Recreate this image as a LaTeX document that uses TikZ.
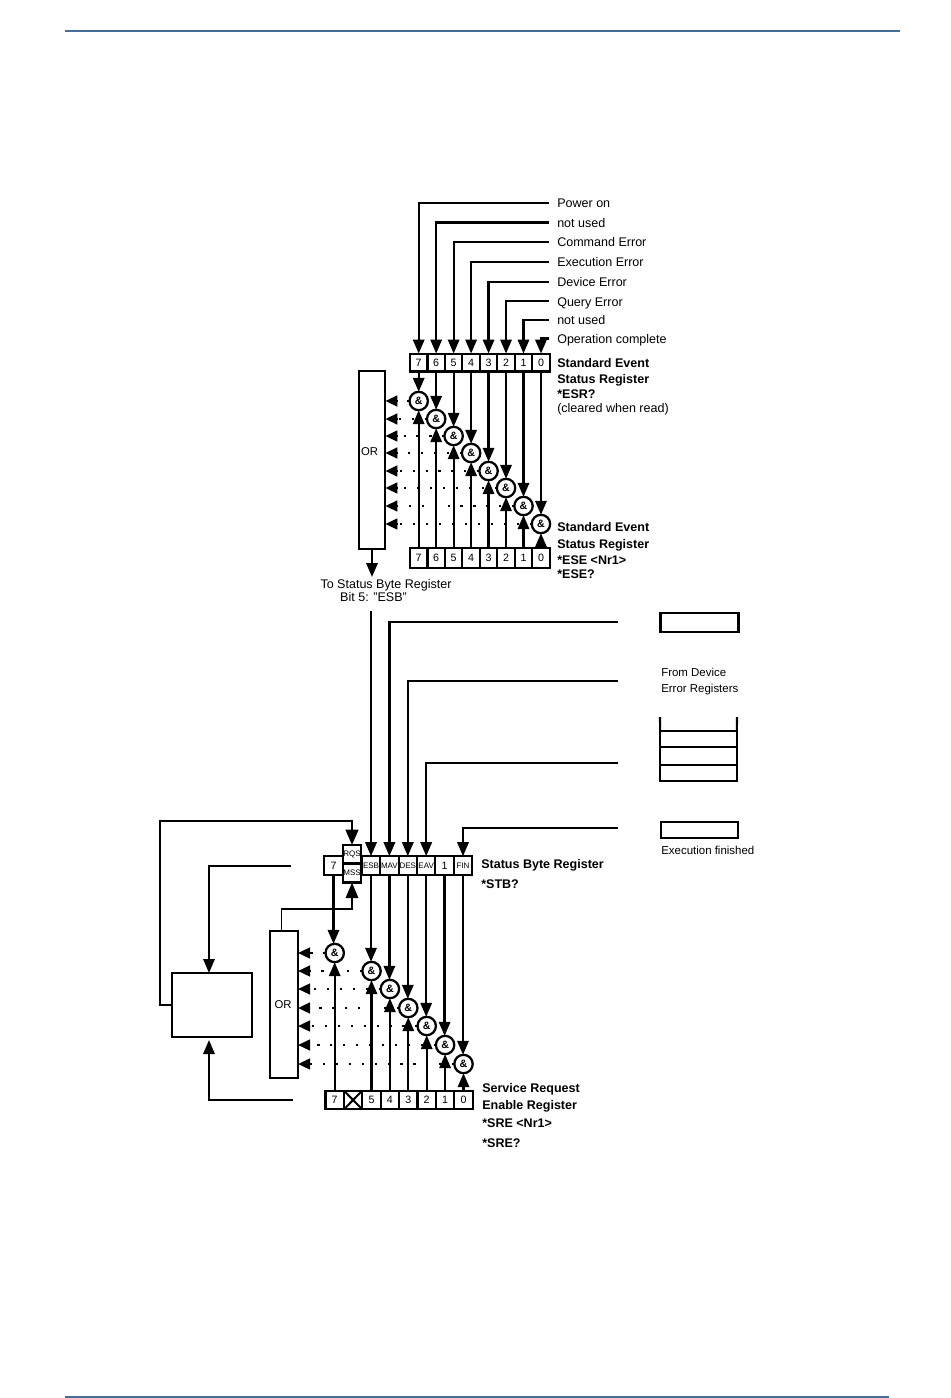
\documentclass[tikz,border=0pt]{standalone}
\usepackage{fontspec}
\setmainfont{Liberation Sans}
\usepackage{tikz}
\usetikzlibrary{positioning,arrows.meta}
\definecolor{rulecol}{RGB}{70,110,150}
\tikzset{reg cell/.style={rectangle,draw,line width=1.6pt,minimum width=13.1pt,minimum height=13.4pt,inner sep=0pt,outer sep=0pt,font=\fontsize{8}{9}\selectfont},
low cell/.style={reg cell,minimum height=14.5pt},
num cell/.style={reg cell,minimum width=13.8pt,minimum height=14pt},
stat cell/.style={num cell,font=\fontsize{6}{7}\selectfont},
and node/.style={circle,draw,line width=1.7pt,minimum size=13.8pt,inner sep=0pt,outer sep=0pt,font=\fontsize{8}{9}\selectfont\bfseries},
or box/.style={rectangle,draw,line width=1.6pt,inner sep=0pt,outer sep=0pt},
or label/.style={inner sep=0pt,font=\fontsize{8.5}{10}\selectfont},
sig label/.style={anchor=base west,yshift=-3.4pt,inner sep=0pt,font=\fontsize{9.4}{10}\selectfont},
reg label/.style={sig label,font=\fontsize{9.4}{10}\selectfont\bfseries},
dev label/.style={sig label,font=\fontsize{8.6}{9}\selectfont},
sig/.style={line width=1.7pt,-{Triangle[length=10.5pt,width=8.5pt]}},
big sig/.style={line width=1.7pt,-{Triangle[length=11.5pt,width=9.5pt]}},
stub/.style={line width=1.7pt,-{Triangle[length=9pt,width=8pt]}},
dots/.style={line width=1.5pt,dash pattern=on 1.6pt off 8.1pt},
}

\begin{document}
\begin{tikzpicture}[x=0.75pt,y=-0.75pt]
			\useasboundingbox (0,0) rectangle (950,1398);
			\coordinate (tl) at (65,31);
			\coordinate (tr) at (900,31);
			\coordinate (bl) at (65,1397);
			\coordinate (br) at (889,1397);
			\draw[rulecol,line width=0.8pt] (tl) -- (tr);
			\draw[rulecol,line width=0.8pt] (bl) -- (br);
			
			%% event status register
			\node[reg cell] (r7) at (418.7,362.5) {7};
			\node[reg cell] (r6) [right = 0pt of r7] {6};
			\node[reg cell] (r5) [right = 0pt of r6] {5};
			\node[reg cell] (r4) [right = 0pt of r5] {4};
			\node[reg cell] (r3) [right = 0pt of r4] {3};
			\node[reg cell] (r2) [right = 0pt of r3] {2};
			\node[reg cell] (r1) [right = 0pt of r2] {1};
			\node[reg cell] (r0) [right = 0pt of r1] {0};
			
			%% event enable register
			\node[low cell] (e7) at (418.7,558) {7};
			\node[low cell] (e6) [right = 0pt of e7] {6};
			\node[low cell] (e5) [right = 0pt of e6] {5};
			\node[low cell] (e4) [right = 0pt of e5] {4};
			\node[low cell] (e3) [right = 0pt of e4] {3};
			\node[low cell] (e2) [right = 0pt of e3] {2};
			\node[low cell] (e1) [right = 0pt of e2] {1};
			\node[low cell] (e0) [right = 0pt of e1] {0};
			
			\node[and node] (a7) at (r7 |- 0,401) {\&};
			\node[and node] (a6) at (r6 |- 0,419) {\&};
			\node[and node] (a5) at (r5 |- 0,436) {\&};
			\node[and node] (a4) at (r4 |- 0,453) {\&};
			\node[and node] (a3) at (r3 |- 0,471) {\&};
			\node[and node] (a2) at (r2 |- 0,488) {\&};
			\node[and node] (a1) at (r1 |- 0,506) {\&};
			\node[and node] (a0) at (r0 |- 0,524) {\&};
			
			\node[or box,minimum width=20pt,minimum height=133pt] (or1) at (372,460) {};
			\node[or label] (ot1) at (369.5,452) {OR};
			
			%% texts on the right
			\node[sig label] (s7) at (557,203) {Power on};
			\node[sig label] (s6) at (557,222.5) {not used};
			\node[sig label] (s5) at (557,242) {Command Error};
			\node[sig label] (s4) at (557,262) {Execution Error};
			\node[sig label] (s3) at (557,282) {Device Error};
			\node[sig label] (s2) at (557,301.5) {Query Error};
			\node[sig label] (s1) at (557,320) {not used};
			\node[sig label] (s0) at (557,338.5) {Operation complete};
			\node[reg label] (l1) at (557,362.5) {Standard Event};
			\node[reg label] (l2) at (557,379) {Status Register};
			\node[reg label] (l3) at (557,394) {*ESR?};
			\node[sig label] (l4) at (557,408) {(cleared when read)};
			\node[reg label] (l5) at (557,527) {Standard Event};
			\node[reg label] (l6) at (557,544) {Status Register};
			\node[reg label] (l7) at (557,560) {*ESE <Nr1>};
			\node[reg label] (l8) at (557,574) {*ESE?};
			\node[sig label,anchor=base] (to1) at (386,584) {To Status Byte Register};
			\node[sig label,anchor=base] (to2) at (373.5,597) {Bit 5: "ESB"};
			
			\coordinate (t7) at (549,203);
			\coordinate (t6) at (549,222.5);
			\coordinate (t5) at (549,242);
			\coordinate (t4) at (549,262);
			\coordinate (t3) at (549,282);
			\coordinate (t2) at (549,301);
			\coordinate (t1) at (549,320);
			\coordinate (t0) at (549,338.5);
			\draw[sig] (t7) -| (r7.north);
			\draw[sig] (t6) -| (r6.north);
			\draw[sig] (t5) -| (r5.north);
			\draw[sig] (t4) -| (r4.north);
			\draw[sig] (t3) -| (r3.north);
			\draw[sig] (t2) -| (r2.north);
			\draw[sig] (t1) -| (r1.north);
			\draw[sig] (t0) -| (r0.north);
			
			\path[sig]
			(r7.south) edge (a7.north)
			(r6.south) edge (a6.north)
			(r5.south) edge (a5.north)
			(r4.south) edge (a4.north)
			(r3.south) edge (a3.north)
			(r2.south) edge (a2.north)
			(r1.south) edge (a1.north)
			(r0.south) edge (a0.north)
			(e7.north) edge (a7.south)
			(e6.north) edge (a6.south)
			(e5.north) edge (a5.south)
			(e4.north) edge (a4.south)
			(e3.north) edge (a3.south)
			(e2.north) edge (a2.south)
			(e1.north) edge (a1.south)
			(e0.north) edge (a0.south)
			;
			
			\path[dots]
			(a7.west) edge ++(-23,0)
			(a6.west) edge ++(-40,0)
			(a5.west) edge ++(-58,0)
			(a4.west) edge ++(-75,0)
			(a3.west) edge ++(-93,0)
			(a2.west) edge ++(-110,0)
			(a1.west) edge ++(-128,0)
			(a0.west) edge ++(-146,0)
			;
			\path[stub]
			(398,401) edge (or1.east |- a7)
			(398,419) edge (or1.east |- a6)
			(398,436) edge (or1.east |- a5)
			(398,453) edge (or1.east |- a4)
			(398,471) edge (or1.east |- a3)
			(398,488) edge (or1.east |- a2)
			(398,506) edge (or1.east |- a1)
			(398,524) edge (or1.east |- a0)
			;
			\coordinate (or1out) at (or1.south |- 0,577);
			\draw[sig] (or1.south) -- (or1out);
			
			%% status byte register
			\node[num cell] (b7) at (333.5,865.5) {7};
			\node[stat cell,minimum height=13.5pt,line width=1.9pt] (rqs) at (352,854) {RQS};
			\node[stat cell,minimum height=14.5pt,line width=1.9pt] (mss) at (352,873) {MSS};
			\node[stat cell] (esb) at (371,865.5) {ESB};
			\node[stat cell] (mav) [right = 0pt of esb] {MAV};
			\node[stat cell] (des) [right = 0pt of mav] {DES};
			\node[stat cell] (eav) [right = 0pt of des] {EAV};
			\node[num cell] (b1) [right = 0pt of eav] {1};
			\node[stat cell] (fin) [right = 0pt of b1] {FIN};
			
			%% service request enable register
			\node[num cell] (q7) at (334.7,1100) {7};
			\node[num cell] (q6) [right = 0pt of q7] {};
			\node[num cell] (q5) [right = 0pt of q6] {5};
			\node[num cell] (q4) [right = 0pt of q5] {4};
			\node[num cell] (q3) [right = 0pt of q4] {3};
			\node[num cell] (q2) [right = 0pt of q3] {2};
			\node[num cell] (q1) [right = 0pt of q2] {1};
			\node[num cell] (q0) [right = 0pt of q1] {0};
			\draw[line width=1.5pt] (q6.south west) -- (q6.north east);
			\draw[line width=1.5pt] (q6.north west) -- (q6.south east);
			
			\node[and node] (c7) at (q7 |- 0,953) {\&};
			\node[and node] (c5) at (q5 |- 0,971) {\&};
			\node[and node] (c4) at (q4 |- 0,989) {\&};
			\node[and node] (c3) at (q3 |- 0,1008) {\&};
			\node[and node] (c2) at (q2 |- 0,1026) {\&};
			\node[and node] (c1) at (q1 |- 0,1045) {\&};
			\node[and node] (c0) at (q0 |- 0,1064) {\&};
			
			\node[or box,minimum width=21pt,minimum height=110pt] (or2) at (284,1004.5) {};
			\node[or label] (ot2) at (283,1005) {OR};
			\node[or box,minimum width=60pt,minimum height=48pt] (srq) at (212,1005) {};
			
			\node[reg label] (l9) at (481,864) {Status Byte Register};
			\node[reg label] (l10) at (481,884) {*STB?};
			\node[reg label] (l11) at (482,1088) {Service Request};
			\node[reg label] (l12) at (482,1105) {Enable Register};
			\node[reg label] (l13) at (482,1123) {*SRE <Nr1>};
			\node[reg label] (l14) at (482,1143) {*SRE?};
			
			%% device error registers
			\node[or box,minimum width=58.5pt,minimum height=14pt] (d1) at (699.5,622.5) {};
			\node[dev label] (d2) at (661,672) {From Device};
			\node[dev label] (d3) at (661,688) {Error Registers};
			\node[or box,minimum width=57.5pt,minimum height=12pt] (d4) at (698.5,739) {};
			\node[or box,minimum width=57.5pt,minimum height=13.5pt] (d5) at (698.5,756) {};
			\node[or box,minimum width=57.5pt,minimum height=12pt] (d6) at (698.5,773) {};
			\coordinate (d7) at (660,717);
			\coordinate (d8) at (737,717);
			\draw[line width=1.6pt] (d7) -- (d4.north west);
			\draw[line width=1.6pt] (d8) -- (d4.north east);
			\node[or box,minimum width=57.5pt,minimum height=12pt] (d9) at (699.5,830) {};
			\node[dev label] (d10) at (661,850) {Execution finished};
			
			\coordinate (p1) at (371,611);
			\coordinate (p2) at (618,622);
			\coordinate (p3) at (618,681);
			\coordinate (p4) at (618,763);
			\coordinate (p5) at (618,828);
			\coordinate (p6) at (291,866);
			\coordinate (p7) at (293,1100);
			\coordinate (p8) at (160,821);
			\coordinate (p9) at (281.7,909);
			\coordinate (srqtop) at (209,973);
			\coordinate (srqbot) at (209,1040);
			
			\draw[sig] (p1) -- (esb.north);
			\draw[sig] (p2) -| (mav.north);
			\draw[sig] (p3) -| (des.north);
			\draw[sig] (p4) -| (eav.north);
			\draw[sig] (p5) -| (fin.north);
			\draw[sig] (p6) -| (srqtop);
			\draw[sig] (p7) -| (srqbot);
			\draw[big sig] (srq.west) -| (p8) -| (rqs.north);
			\draw[-{Triangle[length=11.5pt,width=9.5pt]},line width=0.8pt] (or2.north -| p9) |- (p9) -| (mss.south);
			
			\path[sig]
			(b7.south) edge (b7.south |- c7.north)
			(esb.south) edge (esb.south |- c5.north)
			(mav.south) edge (mav.south |- c4.north)
			(des.south) edge (des.south |- c3.north)
			(eav.south) edge (eav.south |- c2.north)
			(b1.south) edge (b1.south |- c1.north)
			(fin.south) edge (fin.south |- c0.north)
			(q7.north) edge (c7.south)
			(q5.north) edge (c5.south)
			(q4.north) edge (c4.south)
			(q3.north) edge (c3.south)
			(q2.north) edge (c2.south)
			(q1.north) edge (c1.south)
			(q0.north) edge (c0.south)
			;
			\path[dots]
			(c7.west) edge ++(-23,0)
			(c5.west) edge ++(-58,0)
			(c4.west) edge ++(-77,0)
			(c3.west) edge ++(-95,0)
			(c2.west) edge ++(-114,0)
			(c1.west) edge ++(-132,0)
			(c0.west) edge ++(-151,0)
			;
			\path[stub]
			(310,953) edge (or2.east |- c7)
			(310,971) edge (or2.east |- c5)
			(310,989) edge (or2.east |- c4)
			(310,1008) edge (or2.east |- c3)
			(310,1026) edge (or2.east |- c2)
			(310,1045) edge (or2.east |- c1)
			(310,1064) edge (or2.east |- c0)
			;
\end{tikzpicture}
\end{document}
